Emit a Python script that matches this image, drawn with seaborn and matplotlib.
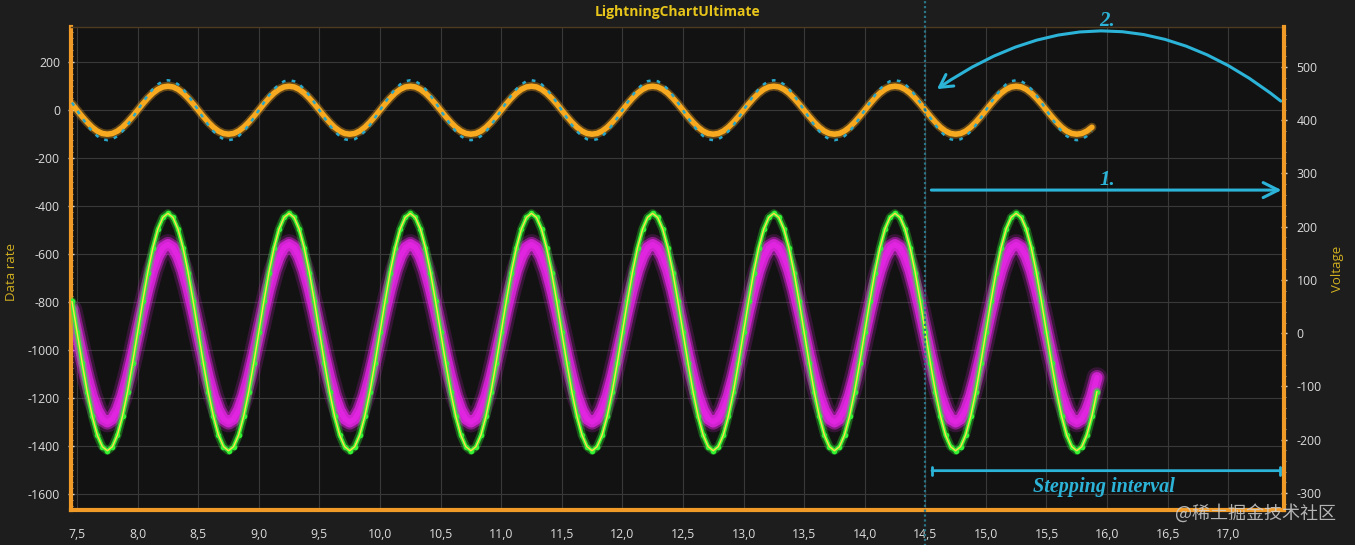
import numpy as np
import pandas as pd
import matplotlib
matplotlib.use("Agg")
import matplotlib.pyplot as plt
import seaborn as sns
from matplotlib.patches import FancyArrowPatch
from matplotlib.ticker import MultipleLocator, FuncFormatter

orange_cycle = [0, -26, -50, -71, -87, -97, -100, -97, -87, -71, -50, -26,
                0, 26, 50, 71, 87, 97, 100, 97, 87, 71, 50, 26]
cyan_cycle = [0, -32, -62, -88, -108, -121, -125, -121, -108, -88, -62, -32,
              0, 32, 62, 88, 108, 121, 125, 121, 108, 88, 62, 32]
green_cycle = [-925, -1053, -1173, -1275, -1354, -1403, -1420, -1403, -1354, -1275, -1173, -1053,
               -925, -797, -677, -575, -496, -447, -430, -447, -496, -575, -677, -797]
magenta_cycle = [-930, -1026, -1115, -1192, -1250, -1287, -1300, -1287, -1250, -1192, -1115, -1026,
                 -930, -834, -745, -668, -610, -573, -560, -573, -610, -668, -745, -834]

t_start = 7.5        # phase origin of the cycles
t_step = 1 / 24      # sample spacing
n_top = 203          # samples drawn for the upper pair of traces
n_low = 204          # samples drawn for the lower traces

x_ticks = [7.5, 8.0, 8.5, 9.0, 9.5, 10.0, 10.5, 11.0, 11.5, 12.0, 12.5,
           13.0, 13.5, 14.0, 14.5, 15.0, 15.5, 16.0, 16.5, 17.0]
left_ticks = [200, 0, -200, -400, -600, -800, -1000, -1200, -1400, -1600]
right_ticks = [500, 400, 300, 200, 100, 0, -100, -200, -300]
cursor_x = 14.5


def trace(cycle, n):
    k = np.arange(-1, n - 1)
    return pd.DataFrame({"t": t_start + t_step * k,
                         "v": np.asarray(cycle)[k % len(cycle)]})


top_orange = trace(orange_cycle, n_top)
top_cyan = trace(cyan_cycle, n_top)
low_green = trace(green_cycle, n_low)
low_magenta = trace(magenta_cycle, n_low)

sns.set_theme(style="dark")
plt.rcParams["font.family"] = ["Open Sans", "DejaVu Sans"]
plt.rcParams["axes.unicode_minus"] = False

fig_bg = "#1d1d1d"
plot_bg = "#121212"
spine_c = "#f09a28"
tick_txt = "#dcdcdc"
cyan = "#2cb3d8"

fig = plt.figure(figsize=(13.55, 5.45), dpi=100, facecolor=fig_bg)
ax = fig.add_axes([71 / 1355, 35 / 545, 1213 / 1355, 483 / 545])
ax.set_facecolor(plot_bg)

# magenta band (wide, soft)
for lw, a in [(15, 0.18), (11, 0.45), (8, 0.8), (4, 1.0)]:
    sns.lineplot(data=low_magenta, x="t", y="v", ax=ax, color="#e024e0",
                 lw=lw, alpha=a, sort=False, estimator=None, zorder=2)
# green trace with dots and yellow core
sns.lineplot(data=low_green, x="t", y="v", ax=ax, color="#2ee82e",
             lw=6, alpha=0.35, sort=False, estimator=None, zorder=3)
sns.lineplot(data=low_green, x="t", y="v", ax=ax, color="#33f233",
             lw=3, marker="o", markersize=4, markeredgewidth=0,
             sort=False, estimator=None, zorder=4)
sns.lineplot(data=low_green, x="t", y="v", ax=ax, color="#ffe14a",
             lw=1.0, sort=False, estimator=None, zorder=5)

# orange trace and dotted cyan envelope
sns.lineplot(data=top_orange, x="t", y="v", ax=ax, color="#f5a623",
             lw=6.5, alpha=0.35, sort=False, estimator=None, zorder=3)
sns.lineplot(data=top_orange, x="t", y="v", ax=ax, color="#f7a91f",
             lw=4, sort=False, estimator=None, zorder=4)
sns.lineplot(data=top_cyan, x="t", y="v", ax=ax, color="#2aa6c8",
             lw=1.8, ls=(0, (1.5, 2.5)), sort=False, estimator=None, zorder=5)

ax.set_xlim(7.45, 17.46)
ax.set_ylim(-1667, 347)
ax.set_xticks(x_ticks)
ax.set_yticks(left_ticks)
ax.xaxis.set_minor_locator(MultipleLocator(0.1))
ax.yaxis.set_minor_locator(MultipleLocator(25))
ax.xaxis.set_major_formatter(FuncFormatter(lambda v, p: f"{v:.1f}".replace(".", ",")))
ax.grid(True, which="major", color="#393939", lw=0.8)
ax.set_xlabel("")
ax.set_ylabel("Data rate", color="#d2b020", fontsize=9.5)
ax.yaxis.set_label_coords(-53 / 1213, 0.493)
ax.tick_params(axis="both", which="major", colors=tick_txt, labelsize=8.8,
               length=4, width=1, direction="inout", pad=6)
ax.tick_params(axis="both", which="minor", colors="#d8b080", length=2.5,
               width=0.7, direction="inout")
ax.tick_params(axis="x", pad=11)

ax2 = ax.twinx()
ax2.set_ylim(-332, 575)
ax2.set_yticks(right_ticks)
ax2.yaxis.set_minor_locator(MultipleLocator(20))
ax2.set_ylabel("Voltage", color="#d2b020", fontsize=9.5)
ax2.yaxis.set_label_coords(1260 / 1213, 0.50)
ax2.tick_params(axis="y", which="major", colors=tick_txt, labelsize=8.8,
                length=4, width=1, direction="inout", pad=7)
ax2.tick_params(axis="y", which="minor", colors="#d8b080", length=2.5,
                width=0.7, direction="inout")
ax2.grid(False)

for side in ["left", "bottom"]:
    ax.spines[side].set_color(spine_c)
    ax.spines[side].set_linewidth(3)
ax.spines["right"].set_visible(False)
ax.spines["top"].set_color("#4e3b1f")
ax.spines["top"].set_linewidth(1)
ax2.spines["right"].set_color(spine_c)
ax2.spines["right"].set_linewidth(3)
for side in ["left", "bottom", "top"]:
    ax2.spines[side].set_visible(False)

# cursor line
ax.axvline(cursor_x, ymin=-0.075, ymax=1.06, clip_on=False, color="#2a7688",
           lw=1.6, ls=(0, (1, 1.2)), zorder=6)

# annotations
ax.annotate("", xy=(17.44, -333), xytext=(14.55, -333), annotation_clip=False,
            arrowprops=dict(arrowstyle="->,head_length=0.9,head_width=0.45",
                            color=cyan, lw=2.2, shrinkA=0, shrinkB=0))
ax.text(16.0, -292, "1.", color=cyan, fontsize=15, style="italic", fontweight="bold",
        family="Liberation Serif", ha="center", va="center")
arc = FancyArrowPatch((17.434, 38), (14.596, 88), connectionstyle="arc3,rad=0.37",
                      arrowstyle="->,head_length=9,head_width=5", color=cyan,
                      lw=2.2, clip_on=False, shrinkA=0, shrinkB=0, zorder=7)
ax.add_patch(arc)
ax.text(16.0, 372, "2.", color=cyan, fontsize=15, style="italic", fontweight="bold",
        family="Liberation Serif", ha="center", va="center", clip_on=False)
ax.annotate("", xy=(14.555, -1503), xytext=(17.426, -1503), annotation_clip=False,
            arrowprops=dict(arrowstyle="|-|,widthA=0.25,widthB=0.25",
                            color=cyan, lw=2, shrinkA=0, shrinkB=0))
ax.text(15.97, -1572, "Stepping interval", color=cyan, fontsize=14.5,
        style="italic", fontweight="bold", family="Liberation Serif",
        ha="center", va="center")

fig.text(0.5, 1 - 12 / 545, "LightningChartUltimate", color="#e8c51a",
         fontsize=10, fontweight="bold", ha="center", va="center")
fig.text(1336 / 1355, 1 - 513 / 545, "@稀土掘金技术社区", color="#cfcfcf", alpha=0.85,
         fontsize=13, ha="right", va="center",
         family=["Noto Sans CJK SC", "DejaVu Sans"])

fig.savefig("out.png", dpi=100, facecolor=fig_bg)
